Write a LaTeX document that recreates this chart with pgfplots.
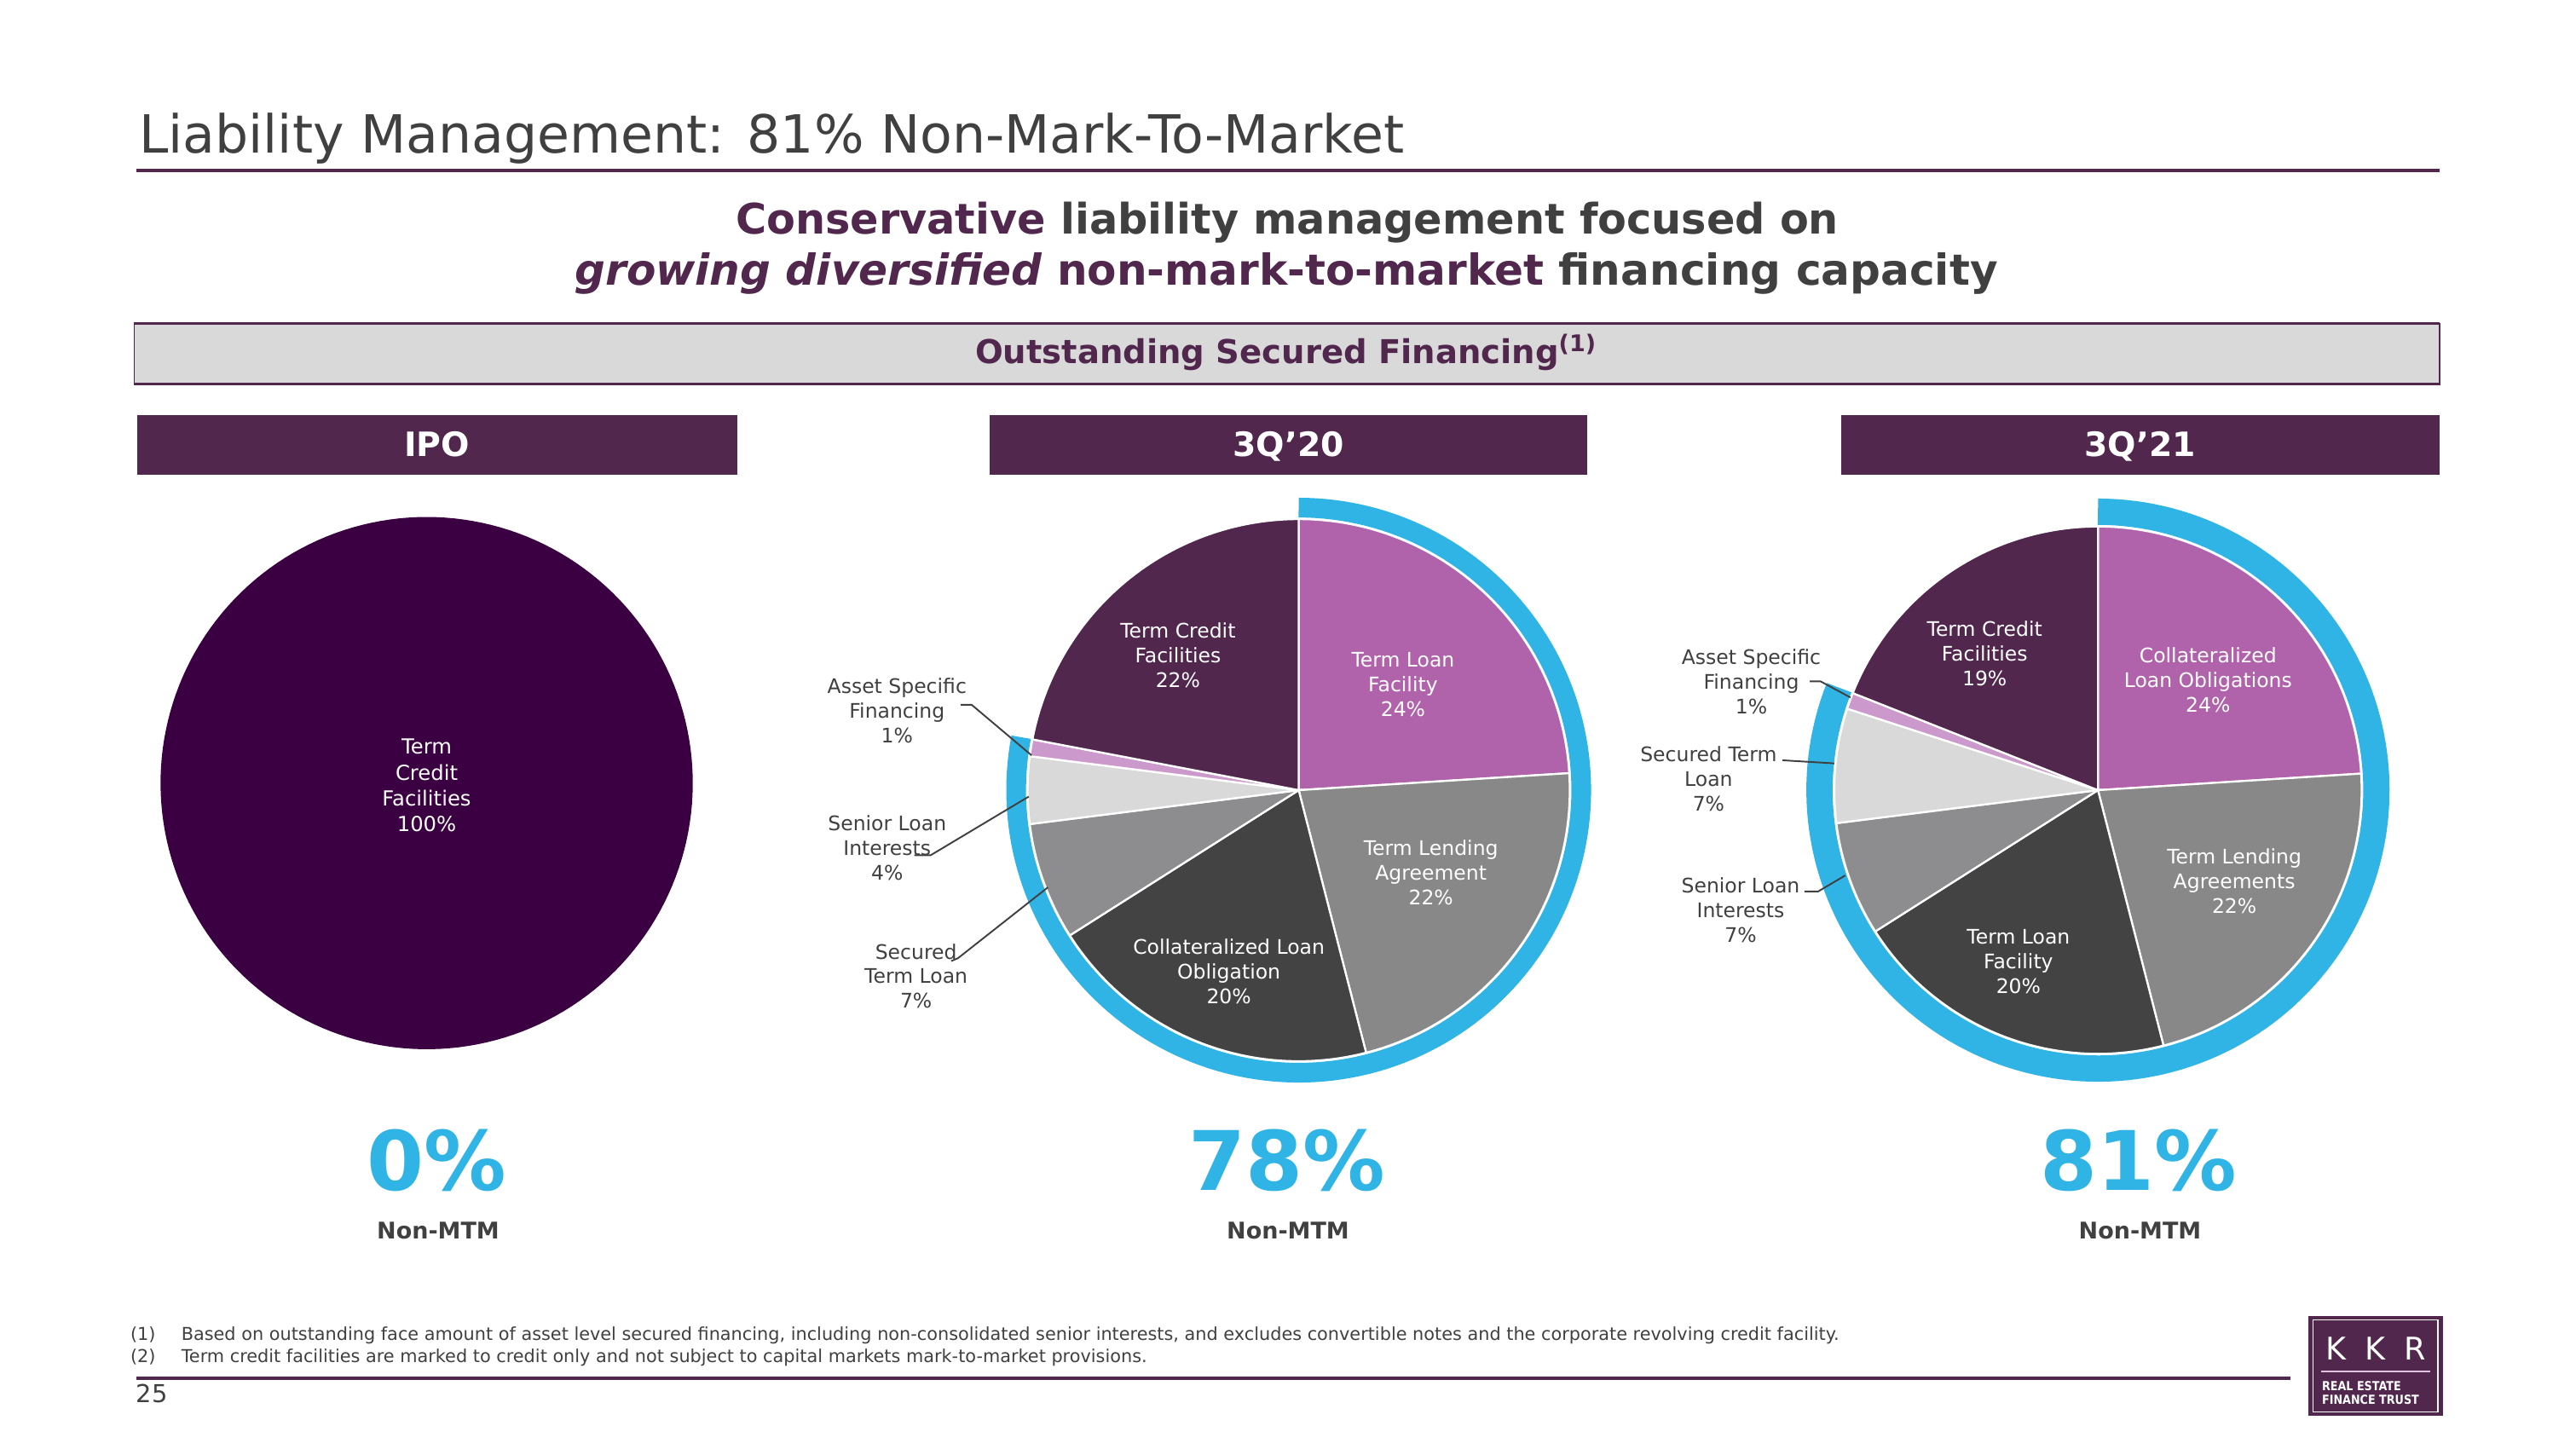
\documentclass[border=0pt]{standalone}
\usepackage{fontspec}
\setmainfont{DejaVu Sans}
\usepackage{graphicx}
\usepackage{pgfplots}
\pgfplotsset{compat=1.18}

\definecolor{kpurple}{RGB}{81,39,78}
\definecolor{ipopurple}{RGB}{59,0,65}
\definecolor{kpink}{RGB}{176,98,170}
\definecolor{klpink}{RGB}{204,153,204}
\definecolor{kgray}{RGB}{136,136,136}
\definecolor{kdgray}{RGB}{67,67,68}
\definecolor{kmgray}{RGB}{141,141,143}
\definecolor{klgray}{RGB}{217,217,217}
\definecolor{kblue}{RGB}{48,180,230}
\definecolor{tgray}{RGB}{64,64,64}
\definecolor{boxgray}{RGB}{217,217,217}

\newcommand{\fs}[2]{\fontsize{#1}{#2}\selectfont}
% slice: cx, cy, r, start pct, end pct, colour (clockwise from 12 o'clock)
\newcommand{\pieslice}[6]{%
  \addplot[fill=#6, draw=white, line width=0.6pt, domain={90-3.6*#5}:{90-3.6*#4},
    samples=70, variable=\t] ({#1+#3*cos(\t)},{#2-#3*sin(\t)}) -- (axis cs:#1,#2) -- cycle;
}
\newcommand{\ring}[5]{% cx, cy, mid radius, pct, width
  \addplot[draw=kblue, line width=#5, domain={90-3.6*#4}:90, samples=160, variable=\t]
    ({#1+#3*cos(\t)},{#2-#3*sin(\t)});
}

\begin{document}
\begin{tikzpicture}
\begin{axis}[
  scale only axis, width=784pt, height=441pt,
  xmin=0, xmax=1568, ymin=0, ymax=882, y dir=reverse,
  hide axis, clip=false,
]
\fill[white] (axis cs:0,0) rectangle (axis cs:1568,882);

% ---- title
\node[anchor=base west, inner sep=0pt, font=\fs{16}{19}, text=tgray] at (axis cs:84.3,92.9)
  {Liability Management: 81\% Non-Mark-To-Market};
\draw[kpurple, line width=1pt] (axis cs:83,103.6) -- (axis cs:1485,103.6);

% ---- subtitle
\node[anchor=base, inner sep=0pt, font=\fs{12.8}{15}\bfseries, text=tgray] at (axis cs:783.5,142.5)
  {\textcolor{kpurple}{Conservative} liability management focused on};
\node[anchor=base, inner sep=0pt, font=\fs{13}{15}\bfseries, text=tgray] at (axis cs:783,173.5)
  {\textcolor{kpurple}{\itshape growing diversified} \textcolor{kpurple}{non-mark-to-market} financing capacity};

% ---- grey banner
\fill[boxgray] (axis cs:81.7,196.8) rectangle (axis cs:1485,233.9);
\draw[kpurple, line width=0.4pt] (axis cs:81.7,196.8) rectangle (axis cs:1485,233.9);
\draw[kpurple, line width=0.75pt] (axis cs:81.7,196.8) -- (axis cs:1485,196.8);
\draw[kpurple, line width=0.75pt] (axis cs:81.7,233.9) -- (axis cs:1485,233.9);
\node[anchor=base, inner sep=0pt, font=\fs{10}{12}\bfseries, text=kpurple] at (axis cs:783,221.4)
  {Outstanding Secured Financing\textsuperscript{(1)}};

% ---- period headers
\fill[kpurple] (axis cs:83.6,252.5) rectangle (axis cs:448.7,288.9);
\fill[kpurple] (axis cs:602.5,252.5) rectangle (axis cs:966.3,288.9);
\fill[kpurple] (axis cs:1120.5,252.5) rectangle (axis cs:1485,288.9);
\node[anchor=base, inner sep=0pt, font=\fs{10.2}{12}\bfseries, text=white] at (axis cs:266,277.6) {IPO};
\node[anchor=base, inner sep=0pt, font=\fs{10.2}{12}\bfseries, text=white] at (axis cs:784.4,277.6) {3Q’20};
\node[anchor=base, inner sep=0pt, font=\fs{10.2}{12}\bfseries, text=white] at (axis cs:1302.7,277.6) {3Q’21};

% ---- IPO pie
\addplot[fill=ipopurple, draw=none, domain=-270:90, samples=180, variable=\t]
  ({259.7+162*cos(\t)},{476.7-162*sin(\t)});
\node[align=center, font=\fs{6.3}{7.85}, text=white] at (axis cs:259.7,478.2)
  {Term\\Credit\\Facilities\\100\%};

% ---- 3Q'20 pie
\pieslice{790.5}{481}{165}{0}{24}{kpink}
\pieslice{790.5}{481}{165}{24}{46}{kgray}
\pieslice{790.5}{481}{165}{46}{66}{kdgray}
\pieslice{790.5}{481}{165}{66}{73}{kmgray}
\pieslice{790.5}{481}{165}{73}{77}{klgray}
\pieslice{790.5}{481}{165}{77}{78}{klpink}
\pieslice{790.5}{481}{165}{78}{100}{kpurple}
\ring{790.5}{481}{172}{78}{6pt}

\node[align=center, font=\fs{6.1}{7.5}, text=white] at (axis cs:717,399) {Term Credit\\Facilities\\22\%};
\node[align=center, font=\fs{6.1}{7.5}, text=white] at (axis cs:854,416.5) {Term Loan\\Facility\\24\%};
\node[align=center, font=\fs{6.1}{7.5}, text=white] at (axis cs:871,531) {Term Lending\\Agreement\\22\%};
\node[align=center, font=\fs{6.1}{7.5}, text=white] at (axis cs:748,591.5) {Collateralized Loan\\Obligation\\20\%};
\node[align=center, font=\fs{6.1}{7.5}, text=tgray] at (axis cs:546,432.5) {Asset Specific\\Financing\\1\%};
\node[align=center, font=\fs{6.1}{7.5}, text=tgray] at (axis cs:540,516) {Senior Loan\\Interests\\4\%};
\node[align=center, font=\fs{6.1}{7.5}, text=tgray] at (axis cs:557.6,594.2) {Secured\\Term Loan\\7\%};
\draw[tgray, line width=0.5pt] (axis cs:584.8,429) -- (axis cs:591.4,429) -- (axis cs:627.9,459.8);
\draw[tgray, line width=0.5pt] (axis cs:556.6,520.6) -- (axis cs:566.5,520.6) -- (axis cs:626.2,484.9);
\draw[tgray, line width=0.5pt] (axis cs:579,585) -- (axis cs:583.1,583.3) -- (axis cs:637.8,540.2);

% ---- 3Q'21 pie
\pieslice{1277}{481}{160.5}{0}{24}{kpink}
\pieslice{1277}{481}{160.5}{24}{46}{kgray}
\pieslice{1277}{481}{160.5}{46}{66}{kdgray}
\pieslice{1277}{481}{160.5}{66}{73}{kmgray}
\pieslice{1277}{481}{160.5}{73}{80}{klgray}
\pieslice{1277}{481}{160.5}{80}{81}{klpink}
\pieslice{1277}{481}{160.5}{81}{100}{kpurple}
\ring{1277}{481}{169.5}{81}{8pt}

\node[align=center, font=\fs{6.1}{7.5}, text=white] at (axis cs:1208,398) {Term Credit\\Facilities\\19\%};
\node[align=center, font=\fs{6.1}{7.5}, text=white] at (axis cs:1344,414) {Collateralized\\Loan Obligations\\24\%};
\node[align=center, font=\fs{6.1}{7.5}, text=white] at (axis cs:1360,536.5) {Term Lending\\Agreements\\22\%};
\node[align=center, font=\fs{6.1}{7.5}, text=white] at (axis cs:1228.6,585.3) {Term Loan\\Facility\\20\%};
\node[align=center, font=\fs{6.1}{7.5}, text=tgray] at (axis cs:1066,415) {Asset Specific\\Financing\\1\%};
\node[align=center, font=\fs{6.1}{7.5}, text=tgray] at (axis cs:1040,474) {Secured Term\\Loan\\7\%};
\node[align=center, font=\fs{6.1}{7.5}, text=tgray] at (axis cs:1059.5,554) {Senior Loan\\Interests\\7\%};
\draw[tgray, line width=0.5pt] (axis cs:1101.6,414.8) -- (axis cs:1108.2,414.8) -- (axis cs:1126.4,424.6);
\draw[tgray, line width=0.5pt] (axis cs:1085,462.8) -- (axis cs:1116.5,464.7);
\draw[tgray, line width=0.5pt] (axis cs:1098.3,542.7) -- (axis cs:1106.6,542.7) -- (axis cs:1123.2,532.9);

% ---- Non-MTM figures
\node[anchor=base, inner sep=0pt, font=\fs{25}{30}\bfseries, text=kblue] at (axis cs:266,724.8) {0\%};
\node[anchor=base, inner sep=0pt, font=\fs{25}{30}\bfseries, text=kblue] at (axis cs:783.5,724.8) {78\%};
\node[anchor=base, inner sep=0pt, font=\fs{25}{30}\bfseries, text=kblue] at (axis cs:1301.6,724.8) {81\%};
\node[anchor=base, inner sep=0pt, font=\fs{7}{8.5}\bfseries, text=tgray] at (axis cs:266.7,753.9) {Non-MTM};
\node[anchor=base, inner sep=0pt, font=\fs{7}{8.5}\bfseries, text=tgray] at (axis cs:784,753.9) {Non-MTM};
\node[anchor=base, inner sep=0pt, font=\fs{7}{8.5}\bfseries, text=tgray] at (axis cs:1302.6,753.9) {Non-MTM};

% ---- footnotes
\node[anchor=base west, inner sep=0pt, font=\fs{5.4}{6.5}, text=tgray] at (axis cs:79,816) {(1)};
\node[anchor=base west, inner sep=0pt, font=\fs{5.4}{6.5}, text=tgray] at (axis cs:110,816)
  {Based on outstanding face amount of asset level secured financing, including non-consolidated senior interests, and excludes convertible notes and the corporate revolving credit facility.};
\node[anchor=base west, inner sep=0pt, font=\fs{5.4}{6.5}, text=tgray] at (axis cs:79,829.5) {(2)};
\node[anchor=base west, inner sep=0pt, font=\fs{5.4}{6.5}, text=tgray] at (axis cs:110,829.5)
  {Term credit facilities are marked to credit only and not subject to capital markets mark-to-market provisions.};
\draw[kpurple, line width=1pt] (axis cs:83,839) -- (axis cs:1394,839);
\node[anchor=base west, inner sep=0pt, font=\fs{7.5}{9}, text=tgray] at (axis cs:82.6,853.7) {25};

% ---- logo
\fill[kpurple] (axis cs:1405,801) rectangle (axis cs:1487,862);
\draw[white, line width=0.4pt] (axis cs:1408,803.5) rectangle (axis cs:1484,859.5);
\node[font=\fs{9.5}{11}, text=white, inner sep=0pt] at (axis cs:1422,821) {K};
\node[font=\fs{9.5}{11}, text=white, inner sep=0pt] at (axis cs:1446,821) {K};
\node[font=\fs{9.5}{11}, text=white, inner sep=0pt] at (axis cs:1470,821) {R};
\draw[klpink!60!white, line width=0.6pt] (axis cs:1413,835) -- (axis cs:1479,835);
\node[anchor=base west, inner sep=0pt, font=\fs{3.8}{4.5}\bfseries, text=white] at (axis cs:1413,846.5) {\scalebox{0.87}[1]{REAL ESTATE}};
\node[anchor=base west, inner sep=0pt, font=\fs{3.8}{4.5}\bfseries, text=white] at (axis cs:1413,855) {\scalebox{0.87}[1]{FINANCE TRUST}};
\end{axis}
\end{tikzpicture}
\end{document}
